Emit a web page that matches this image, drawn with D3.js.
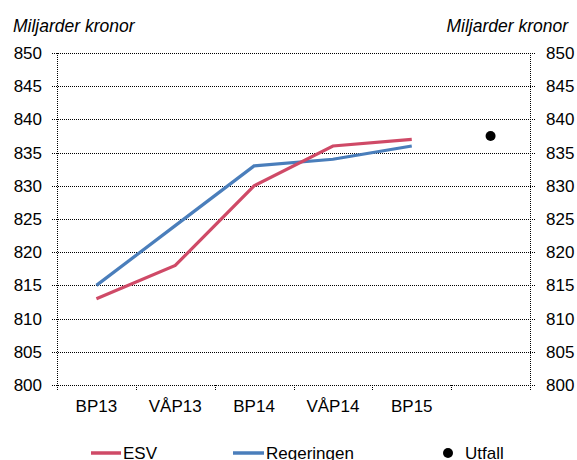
<!DOCTYPE html>
<html>
<head>
<meta charset="utf-8">
<script src="https://cdn.jsdelivr.net/npm/d3@7"></script>
<style>
  body { margin: 0; background: #fff; }
  text { font-family: "Liberation Sans", Arial, sans-serif; fill: #000; }
</style>
</head>
<body>
<svg id="chart" width="577" height="460"></svg>
<script>
// data
const categories = ['BP13', 'VÅP13', 'BP14', 'VÅP14', 'BP15', ''];
const esv = [813, 818, 830, 836, 837];
const regeringen = [815, 824, 833, 834, 836];
const utfall = 837.5;       // shown in the last (unlabelled) column
const yTicks = [800, 805, 810, 815, 820, 825, 830, 835, 840, 845, 850];

const plotLeft = 57, plotRight = 530, plotTop = 53, plotBottom = 385;
const fs = 17;              // font size of labels
const svg = d3.select('#chart');

const x = d3.scaleBand(categories.map((d, i) => i), [plotLeft, plotRight]);
const y = d3.scaleLinear([800, 850], [plotBottom, plotTop]);

// horizontal gridlines (dotted)
svg.append('g')
  .selectAll('line')
  .data(yTicks)
  .join('line')
  .attr('x1', plotLeft - 5).attr('x2', plotRight + 5)
  .attr('y1', d => Math.round(y(d)) + 0.5).attr('y2', d => Math.round(y(d)) + 0.5)
  .attr('stroke', '#000').attr('stroke-width', 1).attr('stroke-dasharray', '1,1');

// vertical axis lines
[plotLeft, plotRight].forEach(xx => {
  svg.append('line')
    .attr('x1', xx + 0.5).attr('x2', xx + 0.5)
    .attr('y1', plotTop).attr('y2', plotBottom + 4)
    .attr('stroke', '#000').attr('stroke-dasharray', '1,1');
});

// x tick marks at band edges
svg.append('g')
  .selectAll('line')
  .data(d3.range(categories.length + 1))
  .join('line')
  .attr('x1', i => Math.round(plotLeft + i * x.step()) + 0.5)
  .attr('x2', i => Math.round(plotLeft + i * x.step()) + 0.5)
  .attr('y1', plotBottom).attr('y2', plotBottom + 5)
  .attr('stroke', '#000').attr('stroke-dasharray', '1,1');

// y labels both sides
svg.append('g')
  .selectAll('text')
  .data(yTicks)
  .join('text')
  .attr('x', 42).attr('y', d => y(d) + 6)
  .attr('text-anchor', 'end').attr('font-size', fs)
  .text(d => d);
svg.append('g')
  .selectAll('text')
  .data(yTicks)
  .join('text')
  .attr('x', 546).attr('y', d => y(d) + 6)
  .attr('font-size', fs)
  .text(d => d);

// axis titles
svg.append('text').attr('x', 13).attr('y', 32)
  .attr('font-size', 17.5).attr('font-style', 'italic').text('Miljarder kronor');
svg.append('text').attr('x', 568).attr('y', 32).attr('text-anchor', 'end')
  .attr('font-size', 17.5).attr('font-style', 'italic').text('Miljarder kronor');

// x labels
svg.append('g')
  .selectAll('text')
  .data(categories)
  .join('text')
  .attr('x', (d, i) => x(i) + x.bandwidth() / 2)
  .attr('y', 412)
  .attr('text-anchor', 'middle').attr('font-size', fs)
  .text(d => d);

// lines
const line = d3.line()
  .x((d, i) => x(i) + x.bandwidth() / 2)
  .y(d => y(d));

const esvColor = '#CF4A67', regColor = '#4A7EBB';

svg.append('path').datum(regeringen)
  .attr('d', line).attr('fill', 'none')
  .attr('stroke', regColor).attr('stroke-width', 3.2);
svg.append('path').datum(esv)
  .attr('d', line).attr('fill', 'none')
  .attr('stroke', esvColor).attr('stroke-width', 3.2);

svg.append('circle')
  .attr('cx', x(5) + x.bandwidth() / 2).attr('cy', y(utfall))
  .attr('r', 5).attr('fill', '#000');

// legend
const lg = svg.append('g');
lg.append('line').attr('x1', 91).attr('x2', 121).attr('y1', 453).attr('y2', 453)
  .attr('stroke', esvColor).attr('stroke-width', 3.5);
lg.append('text').attr('x', 123).attr('y', 459).attr('font-size', fs).text('ESV');
lg.append('line').attr('x1', 233).attr('x2', 264).attr('y1', 453).attr('y2', 453)
  .attr('stroke', regColor).attr('stroke-width', 3.5);
lg.append('text').attr('x', 266).attr('y', 459).attr('font-size', fs).text('Regeringen');
lg.append('circle').attr('cx', 448).attr('cy', 453).attr('r', 5).attr('fill', '#000');
lg.append('text').attr('x', 465).attr('y', 459).attr('font-size', fs).text('Utfall');
</script>
</body>
</html>
